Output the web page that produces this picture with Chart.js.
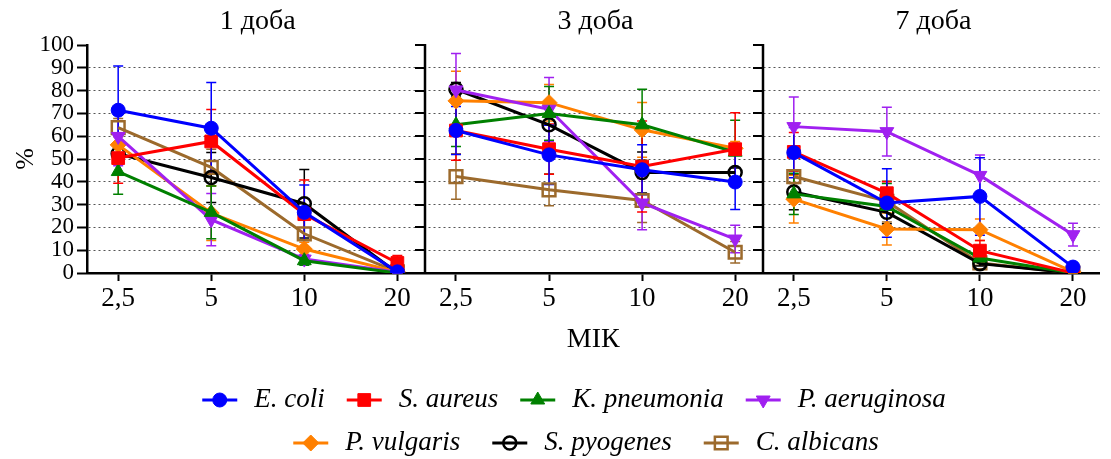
<!DOCTYPE html>
<html>
<head>
<meta charset="utf-8">
<script src="https://cdn.jsdelivr.net/npm/chart.js@4.4.1/dist/chart.umd.min.js"></script>
<style>
  html, body { margin: 0; padding: 0; background: #fff; }
  #wrap { width: 1111px; height: 459px; }
</style>
</head>
<body>
<div id="wrap"><canvas id="micChart" width="1111" height="459"></canvas></div>
<script>
// MIC doses and the three time points (panels)
const doseLabels = ['2,5', '5', '10', '20'];
const panelTitles = ['1 доба', '3 доба', '7 доба'];

const seriesNames = ['E. coli', 'S. aureus', 'K. pneumonia', 'P. aeruginosa',
                     'P. vulgaris', 'S. pyogenes', 'C. albicans'];

// % values, 1 доба | 3 доба | 7 доба, each at 2,5 / 5 / 10 / 20
const eColi      = [71.4, 63.5, 26.6, 0.5,   62.5, 51.8, 45.3, 39.9,   52.8, 30.7, 33.6, 2.6];
const sAureus    = [50.4, 57.7, 25.8, 4.4,   62.5, 54.3, 46.7, 54.3,   53.1, 35.0, 9.8, 0.0];
const kPneumonia = [44.5, 26.6, 5.4, 0.0,    65.0, 70.0, 65.0, 53.0,   34.7, 29.2, 6.6, 0.0];
const pAerug     = [59.9, 23.4, 6.1, 0.3,    80.3, 71.8, 30.7, 14.9,   64.2, 62.0, 42.8, 16.8];
const pVulgaris  = [56.2, 26.3, 10.5, 0.5,   75.5, 74.7, 62.8, 54.7,   32.4, 19.3, 19.0, 0.5];
const sPyogenes  = [52.3, 41.9, 30.4, 0.0,   80.6, 65.0, 44.1, 44.1,   35.5, 26.6, 4.1, 0.0];
const cAlbicans  = [63.8, 46.3, 17.2, 0.5,   42.3, 36.5, 31.8, 9.1,    42.3, 31.4, 4.4, 0.0];

// error bars (+/-)
const eColiSd      = [19.4, 20, 12, 0.5,   10.5, 13, 11, 12,    11, 15, 17, 1];
const sAureusSd    = [11, 14, 15, 3.3,     13, 11, 20, 16,      8.5, 5, 4.5, 0];
const kPneumoniaSd = [10, 11.6, 2, 0,      9.5, 11.8, 15.6, 14, 9, 10, 2, 0];
const pAerugSd     = [12.9, 11.5, 2, 0.3,  16, 14, 11.7, 6,     13, 10.7, 9, 5];
const pVulgarisSd  = [4, 12, 3, 0.5,       13, 8, 12, 3,        10.5, 7, 4.7, 0.5];
const sPyogenesSd  = [3, 11, 15, 0,        3, 10, 9, 2,         7.8, 5, 1, 0];
const cAlbicansSd  = [4, 8, 6, 0.5,        10, 7, 9.6, 4.7,     3, 9, 1, 0];

const yTicksMax = 100;

// ---- layout helpers ----
const PANEL_STEP = 3.63;      // x units between panels
const X_MIN = -0.335;
const X_MAX = 2 * PANEL_STEP + 3.285;
const serif = '"Liberation Serif", "Times New Roman", serif';

const xOf = i => Math.floor(i / 4) * PANEL_STEP + (i % 4);

function toPoints(vals, sds) {
  const pts = [];
  vals.forEach((v, i) => {
    pts.push({x: xOf(i), y: v, sd: sds[i]});
    if (i % 4 === 3 && i < vals.length - 1) pts.push({x: xOf(i) + 0.3, y: null, sd: 0});
  });
  return pts;
}

const styles = [
  {color: '#0000ff', pointStyle: 'circle',   radius: 7,   fill: true},
  {color: '#ff0000', pointStyle: 'rect',     radius: 9,   fill: true},
  {color: '#008000', pointStyle: 'triangle', radius: 8,   fill: true},
  {color: '#a020f0', pointStyle: 'triangle', radius: 8,   fill: true, rotation: 180},
  {color: '#ff8000', pointStyle: 'rectRot',  radius: 8,   fill: true},
  {color: '#000000', pointStyle: 'circle',   radius: 6.5, fill: false},
  {color: '#9c6a2c', pointStyle: 'rect',     radius: 9,   fill: false},
];

const allVals = [eColi, sAureus, kPneumonia, pAerug, pVulgaris, sPyogenes, cAlbicans];
const allSds = [eColiSd, sAureusSd, kPneumoniaSd, pAerugSd, pVulgarisSd, sPyogenesSd, cAlbicansSd];

const datasets = seriesNames.map((name, k) => {
  const st = styles[k];
  return {
    label: name,
    data: toPoints(allVals[k], allSds[k]),
    borderColor: st.color,
    backgroundColor: st.fill ? st.color : 'rgba(0,0,0,0)',
    borderWidth: 3,
    pointStyle: st.pointStyle,
    pointRadius: st.radius,
    pointRotation: st.rotation || 0,
    pointBorderWidth: st.fill ? 1 : 2.5,
    pointBackgroundColor: st.fill ? st.color : 'rgba(0,0,0,0)',
    pointBorderColor: st.color,
    spanGaps: false,
    tension: 0,
  };
});

// error bars under the lines
const errorBars = {
  id: 'errorBars',
  beforeDatasetsDraw(chart) {
    const {ctx, scales: {y}} = chart;
    ctx.save();
    ctx.lineWidth = 1.5;
    for (let k = chart.data.datasets.length - 1; k >= 0; k--) {
      const ds = chart.data.datasets[k];
      const meta = chart.getDatasetMeta(k);
      ctx.strokeStyle = ds.borderColor;
      ds.data.forEach((p, j) => {
        if (p.y === null || !p.sd) return;
        const px = meta.data[j].x;
        const top = y.getPixelForValue(p.y + p.sd);
        const bot = y.getPixelForValue(p.y - p.sd);
        ctx.beginPath();
        ctx.moveTo(px, top); ctx.lineTo(px, bot);
        ctx.moveTo(px - 5, top); ctx.lineTo(px + 5, top);
        ctx.moveTo(px - 5, bot); ctx.lineTo(px + 5, bot);
        ctx.stroke();
      });
    }
    ctx.restore();
  }
};

// panel titles and the axis lines between panels
const panels = {
  id: 'panels',
  afterDraw(chart) {
    const {ctx, scales: {x, y}} = chart;
    ctx.save();
    ctx.fillStyle = '#000';
    ctx.font = '28px ' + serif;
    ctx.textAlign = 'center';
    ctx.textBaseline = 'middle';
    panelTitles.forEach((t, p) => {
      ctx.fillText(t, x.getPixelForValue(p * PANEL_STEP + 1.5), 22);
    });
    ctx.strokeStyle = '#000';
    for (let p = 1; p < panelTitles.length; p++) {
      const bx = Math.round(x.getPixelForValue(p * PANEL_STEP + X_MIN));
      ctx.lineWidth = 2.5;
      ctx.beginPath();
      ctx.moveTo(bx, y.getPixelForValue(0));
      ctx.lineTo(bx, y.getPixelForValue(yTicksMax) - 1);
      ctx.stroke();
      ctx.lineWidth = 2;
      ctx.beginPath();
      for (let v = 10; v <= yTicksMax; v += 10) {
        const ty = Math.round(y.getPixelForValue(v));
        ctx.moveTo(bx - 10, ty); ctx.lineTo(bx, ty);
      }
      ctx.stroke();
    }
    ctx.restore();
  }
};

// legend in two rows
const legendRows = [[0, 1, 2, 3], [4, 5, 6]];
const legendGaps = [22, 32];
const bottomLegend = {
  id: 'bottomLegend',
  afterDraw(chart) {
    const ctx = chart.ctx;
    ctx.save();
    ctx.font = 'italic 27px ' + serif;
    ctx.textBaseline = 'middle';
    legendRows.forEach((row, r) => {
      const cy = 400 + r * 43;
      const widths = row.map(k => 35 + 17 + ctx.measureText(seriesNames[k]).width);
      const gap = legendGaps[r];
      const total = widths.reduce((a, b) => a + b, 0) + gap * (row.length - 1);
      let lx = 574 + r * 12 - total / 2;
      row.forEach((k, n) => {
        const ds = chart.data.datasets[k];
        const st = styles[k];
        ctx.strokeStyle = ds.borderColor;
        ctx.lineWidth = 3;
        ctx.beginPath();
        ctx.moveTo(lx, cy); ctx.lineTo(lx + 35, cy);
        ctx.stroke();
        ctx.fillStyle = ds.pointBackgroundColor;
        ctx.lineWidth = ds.pointBorderWidth;
        Chart.helpers.drawPoint(ctx, {
          pointStyle: st.pointStyle, rotation: st.rotation || 0,
          radius: st.radius, borderWidth: ds.pointBorderWidth
        }, lx + 17.5, cy);
        ctx.fillStyle = '#000';
        ctx.textAlign = 'left';
        ctx.fillText(seriesNames[k], lx + 52, cy);
        lx += widths[n] + gap;
      });
    });
    ctx.restore();
  }
};

const tickPositions = [];
for (let i = 0; i < 12; i++) tickPositions.push(xOf(i));

const config = {
  type: 'line',
  data: {datasets},
  options: {
    responsive: false,
    animation: false,
    devicePixelRatio: 1,
    layout: {padding: {top: 45, right: 2, bottom: 103, left: 0}},
    plugins: {
      legend: {display: false},
      tooltip: {enabled: false},
    },
    scales: {
      x: {
        type: 'linear',
        min: X_MIN,
        max: X_MAX,
        afterBuildTicks: s => { s.ticks = tickPositions.map(v => ({value: v})); },
        afterFit: s => { s.height = 83; },
        ticks: {
          autoSkip: false,
          maxRotation: 0,
          color: '#000',
          padding: 2,
          font: {family: serif, size: 27},
          callback: (v, i) => doseLabels[i % 4],
        },
        grid: {drawOnChartArea: false, tickLength: 8, tickColor: '#000', tickWidth: 2},
        border: {color: '#000', width: 2.5},
        title: {display: true, text: 'МІК', color: '#000', font: {family: serif, size: 28}, padding: {bottom: 0}},
      },
      y: {
        min: 0,
        max: yTicksMax,
        afterFit: s => { s.width = 87; },
        ticks: {stepSize: 10, autoSkip: false, color: '#000', padding: 3, font: {family: serif, size: 23}},
        grid: {
          color: c => (c.tick && (c.tick.value === 0 || c.tick.value === yTicksMax)) ? 'rgba(0,0,0,0)' : '#555',
          lineWidth: 1,
          tickColor: '#000',
          tickLength: 10,
          tickWidth: 2,
        },
        border: {color: '#000', width: 2.5, dash: [2, 3]},
        title: {display: true, text: '%', color: '#000', font: {family: serif, size: 26}, padding: {top: 11}},
      },
    },
  },
  plugins: [errorBars, panels, bottomLegend],
};

const micChart = new Chart(document.getElementById('micChart').getContext('2d'), config);
</script>
</body>
</html>
